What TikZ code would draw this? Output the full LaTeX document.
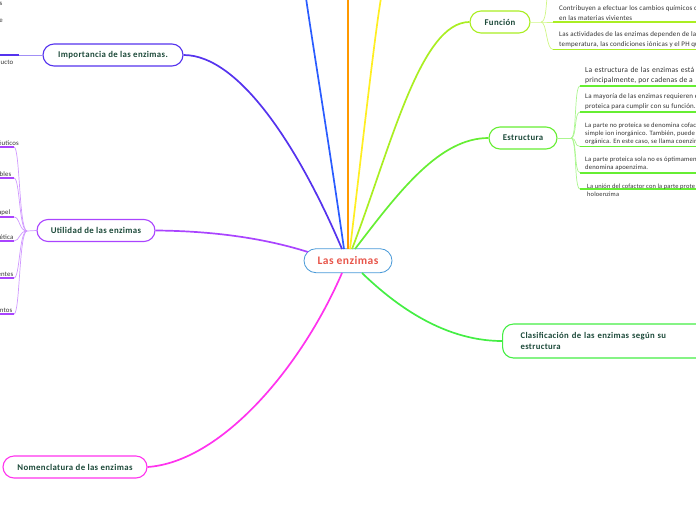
\documentclass[tikz,border=0pt]{standalone}
\usepackage{fontspec}
\setmainfont{Carlito}
\newfontfamily\leaffont[LetterSpace=2.4]{Carlito}
\newfontfamily\topicfont[LetterSpace=4]{Carlito}
\definecolor{txt}{HTML}{1D4A3A}
\definecolor{ltxt}{HTML}{333333}
\definecolor{cred}{HTML}{E8554A}
\definecolor{cblue}{HTML}{4A9AD8}
\definecolor{bBlue}{HTML}{2A5CFF}
\definecolor{bOrange}{HTML}{FF9900}
\definecolor{bYellow}{HTML}{FFEE22}
\definecolor{bFun}{HTML}{AAEE22}
\definecolor{bEst}{HTML}{66EE33}
\definecolor{bCla}{HTML}{44EE44}
\definecolor{bImp}{HTML}{5533EE}
\definecolor{bUti}{HTML}{AA44FF}
\definecolor{bNom}{HTML}{FF33EE}
\tikzset{
 central/.style={draw=cblue, line width=0.8pt, rounded corners=12pt, fill=white, minimum width=88pt, minimum height=24pt, text=cred, font=\topicfont\fontsize{11.5}{13}\selectfont\bfseries, inner sep=0pt},
 topic/.style={draw=#1, line width=1.1pt, rounded corners=11pt, fill=white, minimum height=22pt, text=txt, font=\topicfont\fontsize{8.8}{11}\selectfont\bfseries, inner sep=0pt},
 branch/.style={draw=#1, line width=1.7pt},
 forkline/.style={draw=#1!55, line width=0.7pt},
 uline/.style={draw=#1, line width=1.6pt},
 leaf/.style={text=ltxt, font=\leaffont\fontsize{7}{10}\selectfont, align=left, inner sep=0pt, anchor=south west},
 lleaf/.style={text=ltxt, font=\leaffont\fontsize{6.8}{10}\selectfont, inner sep=0pt, anchor=south east},
}
\begin{document}
\begin{tikzpicture}[x=1pt,y=-1pt]
\useasboundingbox (0,0) rectangle (696,520);
\clip (0,0) rectangle (696,520);
% ---------- nodes ----------
\node[central] (c) at (348,260.7) {Las enzimas};
\node[topic=bFun, minimum width=60pt] (fun) at (500,22) {Función};
\node[topic=bEst, minimum width=68pt] (est) at (523,138) {Estructura};
\node[topic=bCla, minimum height=34pt, anchor=west, inner xsep=18pt, text width=175pt, align=left, font=\topicfont\fontsize{8.7}{11}\selectfont\bfseries] (cla) at (502,341) {Clasificación de las enzimas según su\\estructura};
\node[topic=bImp, minimum width=140pt] (imp) at (113,55) {Importancia de las enzimas.};
\node[topic=bUti, minimum width=118pt] (uti) at (96,230.5) {Utilidad de las enzimas};
\node[topic=bNom, minimum width=144pt] (nom) at (75,467) {Nomenclatura de las enzimas};
% ---------- hub coordinates ----------
\coordinate (hImp) at (342,249);
\coordinate (hBlue) at (344,249);
\coordinate (hOr) at (348,249);
\coordinate (hYel) at (350,249);
\coordinate (hFun) at (352,249);
\coordinate (hEst) at (355,249);
\coordinate (hUti) at (308,252);
\coordinate (hNom) at (342,273);
\coordinate (hCla) at (362,273);
\coordinate (eBlue) at (306,-2);
\coordinate (eOr) at (348,-2);
\coordinate (eYel) at (381,-2);
% ---------- main branches ----------
\draw[branch=bImp] (imp.east) .. controls (240,55) and (300,150) .. (hImp);
\draw[branch=bBlue] (hBlue) .. controls (330,150) and (312,40) .. (eBlue);
\draw[branch=bOrange] (hOr) -- (eOr);
\draw[branch=bYellow] (hYel) .. controls (362,150) and (374,40) .. (eYel);
\draw[branch=bFun] (hFun) .. controls (390,150) and (420,22) .. (fun.west);
\draw[branch=bEst] (hEst) .. controls (400,190) and (440,138) .. (est.west);
\draw[branch=bUti] (uti.east) .. controls (220,231) and (270,240) .. (hUti);
\draw[branch=bNom] (nom.east) .. controls (220,462) and (300,370) .. (hNom);
\draw[branch=bCla] (hCla) .. controls (390,300) and (440,341) .. (cla.west);
% ---------- Función leaves ----------
\coordinate (ffork) at (541,22);
\coordinate (fup) at (547,-2);
\coordinate (f1s) at (553,22);
\coordinate (f1e) at (700,22);
\coordinate (f2s) at (553,49.5);
\coordinate (f2e) at (700,49.5);
\draw[forkline=bFun] (fun.east) -- (ffork) -- (f1s);
\draw[forkline=bFun] (ffork) .. controls (546,22) and (546,6) .. (fup);
\draw[forkline=bFun] (ffork) .. controls (547,22) and (546,49.5) .. (f2s);
\draw[uline=bFun] (f1s) -- (f1e);
\draw[uline=bFun] (f2s) -- (f2e);
\node[leaf] (f1) at (559,20.3) {Contribuyen a efectuar los cambios químicos c\\en las materias vivientes};
\node[leaf] (f2) at (559,47.8) {Las actividades de las enzimas dependen de la\\temperatura, las condiciones iónicas y el PH qu};
% ---------- Estructura leaves ----------
\coordinate (efork) at (571,138);
\coordinate (e1s) at (580,86); \coordinate (e1e) at (700,86);
\coordinate (e2s) at (580,112); \coordinate (e2e) at (700,112);
\coordinate (e3s) at (580,146.5); \coordinate (e3e) at (700,146.5);
\coordinate (e4s) at (580,172.7); \coordinate (e4e) at (700,172.7);
\coordinate (e5s) at (580,189); \coordinate (e5e) at (700,189);
\draw[forkline=bEst] (est.east) -- (efork);
\foreach \s in {e1s,e2s,e3s,e4s,e5s}{
  \draw[forkline=bEst] (efork) .. controls (577,138) and (574,0|-\s) .. (\s);
}
\draw[uline=bEst] (e1s) -- (e1e);
\draw[uline=bEst] (e2s) -- (e2e);
\draw[uline=bEst] (e3s) -- (e3e);
\draw[uline=bEst] (e4s) -- (e4e);
\draw[uline=bEst] (e5s) -- (e5e);
\node[leaf, font=\leaffont\fontsize{7.6}{10.7}\selectfont] (e1) at (585,84.2) {\makebox[109pt][s]{La estructura de las enzimas está}\\principalmente, por cadenas de a};
\node[leaf] (e2) at (585,110.3) {La mayoría de las enzimas requieren e\\proteica para cumplir con su función.};
\node[leaf, font=\leaffont\fontsize{6.65}{8.2}\selectfont] (e3) at (585,144.8) {La parte no proteica se denomina cofac\\simple ion inorgánico. También, puede s\\orgánica. En este caso, se llama coenzim};
\node[leaf, font=\leaffont\fontsize{6.65}{8.7}\selectfont] (e4) at (585,171) {La parte proteica sola no es óptimamen\\denomina apoenzima.};
\node[leaf, font=\leaffont\fontsize{6.45}{8}\selectfont] (e5) at (587,196.5) {La unión del cofactor con la parte prote\\holoenzima};
% ---------- Importancia leaves ----------
\coordinate (ifork) at (19,55);
\coordinate (i1e) at (-2,55);
\draw[forkline=bImp] (imp.west) -- (ifork);
\draw[uline=bImp] (ifork) -- (i1e);
\node[lleaf] (i1) at (2.5,6) {s};
\node[lleaf] (i2) at (3,23) {e};
\node[lleaf] (i3) at (13.5,64.5) {ucto};
% ---------- Utilidad leaves ----------
\coordinate (ufork) at (27,231);
\draw[forkline=bUti] (uti.west) -- (ufork);
\foreach \y/\n/\t/\xr in {147/u1/éuticos/19, 178/u2/ibles/11.5, 217/u3/apel/10.5, 241/u4/ética/13.5, 278/u5/entes/13.5, 314/u6/ntos/12.5}{
  \coordinate (\n s) at (14,\y);
  \coordinate (\n e) at (-2,\y);
  \draw[forkline=bUti] (ufork) .. controls (19,231) and (20,\y) .. (\n s);
  \draw[uline=bUti] (\n s) -- (\n e);
  \node[lleaf] (\n) at (\xr,\y-1.6) {\t};
}
\end{tikzpicture}
\end{document}
